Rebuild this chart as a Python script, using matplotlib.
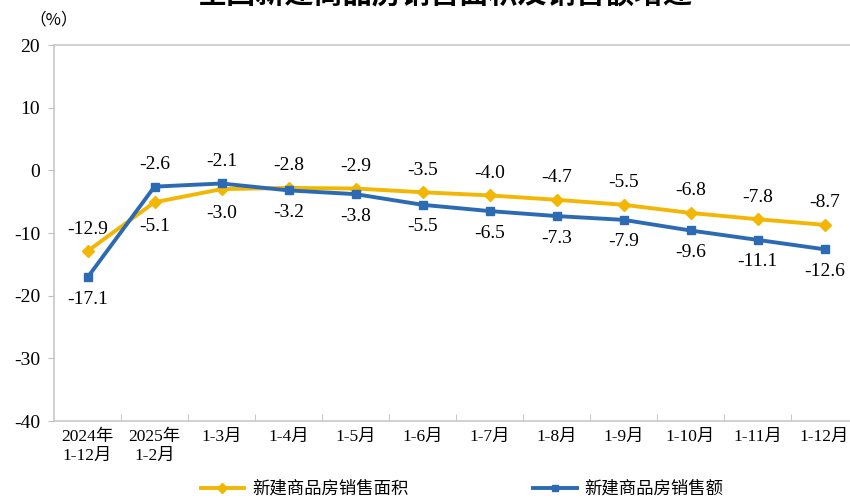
import matplotlib
matplotlib.use('Agg')
import matplotlib.pyplot as plt
from matplotlib.lines import Line2D
import numpy as np

# ── data ──
categories = ['2024年\n1-12月', '2025年\n1-2月', '1-3月', '1-4月', '1-5月', '1-6月',
              '1-7月', '1-8月', '1-9月', '1-10月', '1-11月', '1-12月']
area = [-12.9, -5.1, -3.0, -2.8, -2.9, -3.5, -4.0, -4.7, -5.5, -6.8, -7.8, -8.7]
sales = [-17.1, -2.6, -2.1, -3.2, -3.8, -5.5, -6.5, -7.3, -7.9, -9.6, -11.1, -12.6]
yticks = [-40, -30, -20, -10, 0, 10, 20]

# which series gets its label above the point (per category)
area_above = [True, False, False] + [True] * 9

YELLOW = '#F2B705'
BLUE = '#2C6BB3'
FONT = ['Liberation Serif', 'Noto Sans CJK SC', 'DejaVu Sans']
CJK = ['Noto Sans CJK SC', 'DejaVu Sans']

plt.rcParams['font.family'] = FONT

fig = plt.figure(figsize=(8.5, 4.98), dpi=100)
ax = fig.add_axes([54 / 850, 1 - 421 / 498, 804 / 850, 376 / 498])

x = np.arange(len(categories))
ax.plot(x, area, color=YELLOW, lw=2.8, marker='D', ms=6, zorder=3)
ax.plot(x, sales, color=BLUE, lw=2.8, marker='s', ms=6, zorder=4)

for i in x:
    a, s = area[i], sales[i]
    if area_above[i]:
        ax.annotate(f'{a:.1f}', (i, a), xytext=(0, 22), textcoords='offset pixels',
                    ha='center', va='center', fontsize=14)
        ax.annotate(f'{s:.1f}', (i, s), xytext=(0, -22), textcoords='offset pixels',
                    ha='center', va='center', fontsize=14)
    else:
        ax.annotate(f'{s:.1f}', (i, s), xytext=(0, 22), textcoords='offset pixels',
                    ha='center', va='center', fontsize=14)
        ax.annotate(f'{a:.1f}', (i, a), xytext=(0, -24), textcoords='offset pixels',
                    ha='center', va='center', fontsize=14)

ax.set_xlim(-0.5, len(categories) - 0.5)
ax.set_ylim(-40, 20)
ax.set_yticks(yticks)
ax.set_yticklabels([str(v) for v in yticks], fontsize=14)
ax.set_xticks(x)
ax.set_xticklabels(categories, fontsize=12.5, linespacing=1.25)
ax.tick_params(axis='x', length=0, pad=6)
ax.set_xticks(np.arange(len(categories) - 1) + 0.5, minor=True)
ax.tick_params(axis='x', which='minor', direction='in', length=5, color='#BFBFBF')
ax.tick_params(axis='y', direction='out', length=4, color='#BFBFBF', pad=6)

for sp in ax.spines.values():
    sp.set_color('#C8C8C8')
    sp.set_linewidth(1.2)

fig.text(54 / 850, 1 - 20 / 498, '（%）', fontsize=12, ha='center', va='center',
         family=CJK)
fig.text(445 / 850, 1 - 9 / 498, '全国新建商品房销售面积及销售额增速', fontsize=21,
         fontweight='bold', ha='center', va='bottom', family=CJK)

handles = [Line2D([], [], color=YELLOW, lw=2.8, marker='D', ms=5),
           Line2D([], [], color=BLUE, lw=2.8, marker='s', ms=5)]
fig.legend(handles, ['新建商品房销售面积', '新建商品房销售额'], loc='center',
           bbox_to_anchor=(462 / 850, 1 - 489 / 498), ncol=2, frameon=False,
           handlelength=2.5, handletextpad=0.45, columnspacing=7.2,
           prop={'family': CJK, 'size': 12.5})

fig.savefig('out.png', dpi=100)
